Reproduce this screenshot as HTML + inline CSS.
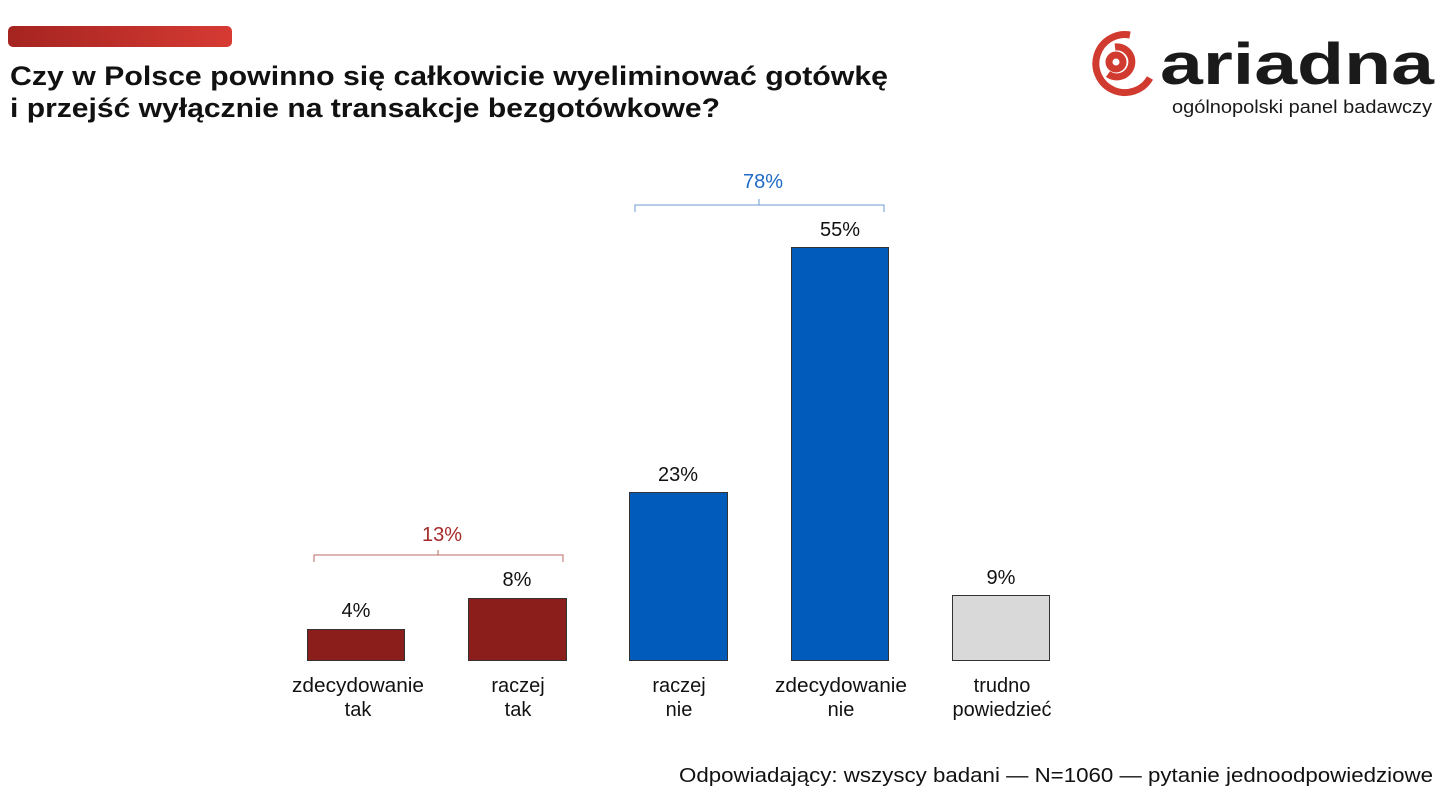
<!DOCTYPE html>
<html><head><meta charset="utf-8"><style>
body{margin:0;background:#fff;}
svg{display:block;font-family:"Liberation Sans",sans-serif;}
</style></head><body>
<svg width="1447" height="796" viewBox="0 0 1447 796">
<defs><linearGradient id="g" x1="0" x2="1"><stop offset="0" stop-color="#a52420"/><stop offset="1" stop-color="#d63a33"/></linearGradient></defs>
<rect x="8" y="26" width="224" height="21" rx="5" fill="url(#g)"/>
<text x="10" y="85" font-size="27" font-weight="bold" fill="#111" textLength="878" lengthAdjust="spacingAndGlyphs">Czy w Polsce powinno się całkowicie wyeliminować gotówkę</text>
<text x="10" y="117" font-size="27" font-weight="bold" fill="#111" textLength="710" lengthAdjust="spacingAndGlyphs">i przejść wyłącznie na transakcje bezgotówkowe?</text>
<!-- logo -->
<g fill="none" stroke="#d13a2f" stroke-width="7">
<path d="M1130 35 A29 29 0 1 0 1150 78"/>
<path d="M1115 47 A15 15 0 1 1 1108 74"/>
<circle cx="1116" cy="62" r="7"/>
</g>
<text x="1160" y="84" font-size="58" font-weight="bold" fill="#1a1a1a" textLength="274" lengthAdjust="spacingAndGlyphs">ariadna</text>
<text x="1172" y="113" font-size="18" fill="#1a1a1a" textLength="260" lengthAdjust="spacingAndGlyphs">ogólnopolski panel badawczy</text>
<!-- brackets -->
<path d="M314 562 V555 H438 V550 M438 555 H563 V562" fill="none" stroke="#b86b66" stroke-width="1"/>
<text x="442" y="541" font-size="20" fill="#a52a2a" text-anchor="middle">13%</text>
<path d="M635 212 V205 H759 V199 M759 205 H884 V212" fill="none" stroke="#6b9bd1" stroke-width="1"/>
<text x="763" y="188" font-size="20" fill="#1e6ac8" text-anchor="middle">78%</text>
<!-- bars -->
<g stroke="#333" stroke-width="1">
<rect x="307.5" y="629.5" width="97" height="31" fill="#8b1e1a"/>
<rect x="468.5" y="598.5" width="98" height="62" fill="#8b1e1a"/>
<rect x="629.5" y="492.5" width="98" height="168" fill="#005bbb"/>
<rect x="791.5" y="247.5" width="97" height="413" fill="#005bbb"/>
<rect x="952.5" y="595.5" width="97" height="65" fill="#d9d9d9"/>
</g>
<g font-size="20" fill="#111" text-anchor="middle">
<text x="356" y="617">4%</text>
<text x="517" y="586">8%</text>
<text x="678" y="481">23%</text>
<text x="840" y="236">55%</text>
<text x="1001" y="584">9%</text>
<text x="358" y="692" textLength="132" lengthAdjust="spacingAndGlyphs">zdecydowanie</text><text x="358" y="716">tak</text>
<text x="518" y="692">raczej</text><text x="518" y="716">tak</text>
<text x="679" y="692">raczej</text><text x="679" y="716">nie</text>
<text x="841" y="692" textLength="132" lengthAdjust="spacingAndGlyphs">zdecydowanie</text><text x="841" y="716">nie</text>
<text x="1002" y="692">trudno</text><text x="1002" y="716">powiedzieć</text>
</g>
<text x="1433" y="782" font-size="20" fill="#111" text-anchor="end" textLength="754" lengthAdjust="spacingAndGlyphs">Odpowiadający: wszyscy badani — N=1060 — pytanie jednoodpowiedziowe</text>
</svg>
</body></html>
